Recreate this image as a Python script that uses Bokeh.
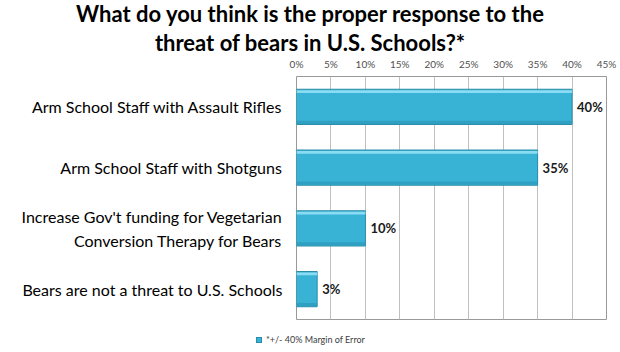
from bokeh.plotting import figure
from bokeh.models import FactorRange, Div, NumeralTickFormatter, FixedTicker
from bokeh.layouts import column
from bokeh.transform import dodge
from bokeh.core.properties import value
from bokeh.embed import file_html
from bokeh.resources import INLINE

title_lines = ["What do you think is the proper response to the",
               "threat of bears in U.S. Schools?*"]
categories = ["Arm School Staff with Assault Rifles",
              "Arm School Staff with Shotguns",
              "Increase Gov't funding for Vegetarian\nConversion Therapy for Bears",
              "Bears are not a threat to U.S. Schools"]
values = [0.40, 0.35, 0.10, 0.03]
value_labels = ["40%", "35%", "10%", "3%"]
ticks = [0, 0.05, 0.10, 0.15, 0.20, 0.25, 0.30, 0.35, 0.40, 0.45]
legend_label = "*+/- 40% Margin of Error"

FONT = "Lato"
BAR = "#38B3D6"

title = Div(text="<div style='font-family:Lato;font-weight:bold;font-size:22px;"
                 "text-align:center;color:#000;width:620px;height:54px;overflow:visible;"
                 "margin:0;padding:0'>"
                 "<div style='line-height:27px;height:27px'>" + title_lines[0] + "</div>"
                 "<div style='line-height:31px;height:27px'>" + title_lines[1] + "</div>"
                 "</div>",
            width=620, height=54, margin=(0, 0, 0, 0))

p = figure(width=620, height=271, output_backend="svg", toolbar_location=None,
           y_range=FactorRange(*categories[::-1]), x_range=(0, 0.45),
           x_axis_location="above", min_border_left=296, min_border_right=14,
           min_border_top=20, min_border_bottom=6, margin=(0, 0, 0, 0))

src = dict(cat=categories, val=values, lab=value_labels)
p.hbar(y="cat", right="val", left=0, height=0.58, source=src,
       fill_color=BAR, line_color="#2A8CA8", line_width=1)
p.hbar(y=dodge("cat", 0.25, range=p.y_range), right="val", left=0, height=0.045,
       source=src, fill_color="#8ADCF2", line_color=None)
p.hbar(y=dodge("cat", -0.255, range=p.y_range), right="val", left=0, height=0.05,
       source=src, fill_color="#2FA0C2", line_color=None)
p.text(x="val", y="cat", text="lab", source=src, x_offset=5,
       text_baseline="middle", text_align="left", text_font=value(FONT),
       text_font_style="bold", text_font_size="13px", text_color="#1a1a1a")

ax = p.xaxis[0]
ax.ticker = FixedTicker(ticks=ticks)
ax.formatter = NumeralTickFormatter(format="0%")
ax.axis_line_color = None
ax.major_tick_line_color = None
ax.minor_tick_line_color = None
ax.major_tick_out = 0
ax.major_tick_in = 0
ax.minor_tick_out = 0
ax.major_label_text_font = FONT
ax.major_label_text_font_size = "10px"
ax.major_label_text_color = "#505050"
ax.major_label_standoff = 7

ay = p.yaxis[0]
ay.axis_line_color = None
ay.major_tick_line_color = None
ay.minor_tick_line_color = None
ay.major_tick_out = 0
ay.major_tick_in = 0
ay.major_label_text_font = FONT
ay.major_label_text_font_size = "16px"
ay.major_label_text_color = "#000000"
ay.major_label_text_line_height = 1.3
ay.major_label_standoff = 14
nb = "\u00a0"
ay.major_label_overrides = {
    categories[2]: "Increase Gov't funding for Vegetarian\nConversion Therapy for Bears" + nb * 10,
}

p.xgrid.grid_line_color = "#C0C0C0"
p.xgrid.ticker = FixedTicker(ticks=ticks)
p.ygrid.grid_line_color = None
p.outline_line_color = "#999999"
p.background_fill_color = "white"
p.border_fill_color = "white"

legend = Div(text="<div style='font-family:Lato;font-size:9px;color:#404040;"
                  "padding-left:256px;padding-top:9px;line-height:12px;white-space:nowrap'>"
                  "<span style='display:inline-block;width:6px;height:6px;background:" + BAR +
                  ";border:0.5px solid #2A8CA8;margin-right:4px;vertical-align:0px'></span>"
                  + legend_label + "</div>",
             width=620, height=27, margin=(0, 0, 0, 0))

layout = column(title, p, legend, spacing=0)
open("out.html", "w").write(file_html(layout, INLINE))
